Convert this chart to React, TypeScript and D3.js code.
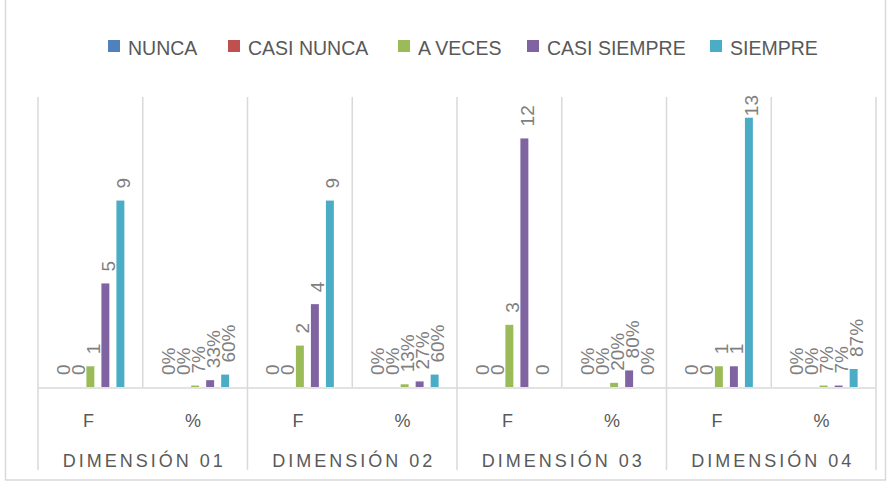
import React from "react";
import * as d3 from "d3";

const dimensions = ["DIMENSIÓN 01", "DIMENSIÓN 02", "DIMENSIÓN 03", "DIMENSIÓN 04"];
const subCategories = ["F", "%"];
const seriesNames = ["NUNCA", "CASI NUNCA", "A VECES", "CASI SIEMPRE", "SIEMPRE"];
const seriesColors = ["#4f81bd", "#c0504d", "#9bbb59", "#8064a2", "#4bacc6"];

// one value per column: F, %, F, %, ... (percent stored as fraction)
const nunca = [0, 0, 0, 0, 0, 0, 0, 0];
const casiNunca = [0, 0, 0, 0, 0, 0, 0, 0];
const aVeces = [1, 0.07, 2, 0.13, 3, 0.2, 1, 0.07];
const casiSiempre = [5, 0.33, 4, 0.27, 12, 0.8, 1, 0.07];
const siempre = [9, 0.6, 9, 0.6, 0, 0, 13, 0.87];
const seriesValues = [nunca, casiNunca, aVeces, casiSiempre, siempre];

const W = 891;
const H = 482;
const plot = { left: 38, right: 876, top: 97, bottom: 387 };
const font = "'Liberation Sans', Arial, sans-serif";
const labelSize = 19;

export default function App() {
  const columns = dimensions.flatMap((d) => subCategories.map((s) => `${d}|${s}`));

  const x0 = d3.scaleBand().domain(columns).range([plot.left, plot.right]).padding(0);
  const x1 = d3
    .scaleBand()
    .domain(seriesNames)
    .range([0, x0.bandwidth()])
    .paddingInner(0.47)
    .paddingOuter(1.225);
  const y = d3.scaleLinear().domain([0, 14]).range([plot.bottom, plot.top]);

  const groupWidth = x0.bandwidth() * subCategories.length;
  const fmtPct = d3.format(".0%");

  const legendX = [108, 228, 398, 527, 710];

  return (
    <svg
      width={W}
      height={H}
      style={{ position: "absolute", left: 0, top: 0, background: "#fff" }}
      fontFamily={font}
    >
      <rect x={5.5} y={-2} width={880} height={482} fill="none" stroke="#d9d9d9" strokeWidth={1.5} />

      {/* legend */}
      {seriesNames.map((name, i) => (
        <g key={name} transform={`translate(${legendX[i]},0)`}>
          <rect x={0} y={40} width={12} height={12} fill={seriesColors[i]} />
          <text x={20} y={55} fontSize={19.5} fill="#595959">
            {name}
          </text>
        </g>
      ))}

      {/* vertical separators inside plot */}
      {d3.range(columns.length + 1).map((i) => {
        const xx = plot.left + i * x0.bandwidth();
        const isGroup = i % subCategories.length === 0;
        return (
          <line
            key={i}
            x1={xx}
            x2={xx}
            y1={plot.top}
            y2={isGroup ? 470 : plot.bottom}
            stroke="#d9d9d9"
            strokeWidth={1.5}
          />
        );
      })}
      <line x1={plot.left} x2={plot.right} y1={plot.bottom + 1} y2={plot.bottom + 1} stroke="#d9d9d9" strokeWidth={1.5} />

      {/* bars */}
      {seriesValues.map((vals, si) =>
        vals.map((v, ci) => (
          <rect
            key={`${si}-${ci}`}
            x={(x0(columns[ci]) ?? 0) + (x1(seriesNames[si]) ?? 0)}
            y={y(v)}
            width={x1.bandwidth()}
            height={plot.bottom - y(v)}
            fill={seriesColors[si]}
          />
        ))
      )}

      {/* data labels */}
      {seriesValues.map((vals, si) =>
        vals.map((v, ci) => {
          const isPct = columns[ci].endsWith("|%");
          const label = isPct ? fmtPct(v) : String(v);
          const textLen = label.length * 0.556 * labelSize + (isPct ? 0.33 * labelSize : 0);
          const start = Math.max(y(v) - 12, plot.top - 2 + textLen);
          const cx = (x0(columns[ci]) ?? 0) + (x1(seriesNames[si]) ?? 0) + x1.bandwidth() / 2;
          return (
            <text
              key={`l${si}-${ci}`}
              transform={`translate(${cx},${start}) rotate(-90)`}
              dy="0.5em"
              fontSize={labelSize}
              fill="#7f7f7f"
            >
              {label}
            </text>
          );
        })
      )}

      {/* category labels */}
      {columns.map((c) => (
        <text
          key={c}
          x={(x0(c) ?? 0) + x0.bandwidth() / 2 - 2}
          y={427}
          textAnchor="middle"
          fontSize={18}
          fill="#595959"
        >
          {c.split("|")[1]}
        </text>
      ))}
      {dimensions.map((d, i) => (
        <text
          key={d}
          x={plot.left + groupWidth * i + groupWidth / 2 + 1.5}
          y={467}
          textAnchor="middle"
          fontSize={18}
          letterSpacing={3}
          fill="#595959"
        >
          {d}
        </text>
      ))}
    </svg>
  );
}
